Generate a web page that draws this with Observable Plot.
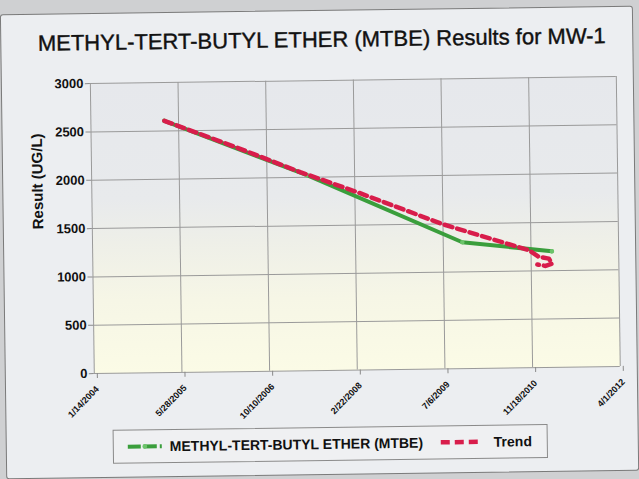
<!DOCTYPE html>
<html><head><meta charset="utf-8">
<script src="https://cdn.jsdelivr.net/npm/d3@7"></script>
<script src="https://cdn.jsdelivr.net/npm/@observablehq/plot@0.6"></script>
<style>
html,body{margin:0;padding:0;background:#cfd0d2;width:639px;height:479px;overflow:hidden;font-family:"Liberation Sans",Arial,sans-serif;}
#page{position:absolute;left:0;top:0;width:639px;height:479px;transform:rotate(-0.78deg);transform-origin:319.5px 239.5px;}
#panel{position:absolute;left:3px;top:10px;width:631px;height:463px;background:#eceef1;border:1px solid #7a7a7a;border-radius:3px;}
#title{position:absolute;left:5px;width:639px;top:27px;line-height:26px;text-align:center;font-size:22px;color:#111;-webkit-text-stroke:0.4px #111;white-space:nowrap;}
#chart{position:absolute;left:0;top:0;}
#legend{position:absolute;left:110px;top:427px;width:433px;height:32px;border:1px solid #8a8a8a;background:#eff0f2;}
#legend .lab{position:absolute;top:8px;font-size:14px;font-weight:bold;color:#111;white-space:nowrap;line-height:16px;}
#legend svg{position:absolute;top:9px;}
</style>
</head><body>
<div id="page">
  <div id="panel"></div>
  <div id="title">METHYL-TERT-BUTYL ETHER (MTBE) Results for MW-1</div>
  <div id="chart"></div>
  <div id="legend">
    <svg style="left:13px" width="36" height="14"><line x1="1" y1="7" x2="35" y2="7" stroke="#3a9e3c" stroke-width="4" stroke-dasharray="13,3"/><circle cx="18" cy="7" r="2.4" fill="#6cc46a"/></svg>
    <span class="lab" style="left:56px">METHYL-TERT-BUTYL ETHER (MTBE)</span>
    <svg style="left:326px" width="44" height="14"><line x1="1" y1="7" x2="43" y2="7" stroke="#d81d4b" stroke-width="4.5" stroke-dasharray="9,5"/></svg>
    <span class="lab" style="left:380px">Trend</span>
  </div>
</div>
<script>
// Data
const mtbeDates = ["2005-03-08", "2007-05-26", "2009-10-23", "2011-03-17"];
const mtbeValues = [2605, 2022, 1307, 1200];
const trendDates = ["2005-03-08", "2006-04-07", "2007-04-18", "2008-03-03", "2009-07-05", "2010-11-07", "2011-01-02", "2011-02-27", "2011-03-18", "2011-02-08", "2010-12-23"];
const trendValues = [2605, 2330, 2055, 1842, 1496, 1214, 1144, 1125, 1073, 1050, 1065];
const xTickDates = ["2004-01-14", "2005-05-28", "2006-10-10", "2008-02-22", "2009-07-06", "2010-11-18", "2012-04-01"];
const yTicks = [0, 500, 1000, 1500, 2000, 2500, 3000];
const yLabel = "Result (UG/L)";

const parse = d3.utcParse("%Y-%m-%d");
const mtbe = mtbeDates.map((d, i) => ({date: parse(d), value: mtbeValues[i]}));
const trend = trendDates.map((d, i) => ({date: parse(d), value: trendValues[i]}));
const xTicks = xTickDates.map(parse);
const fmt = d => `${d.getUTCMonth() + 1}/${d.getUTCDate()}/${d.getUTCFullYear()}`;
const font = '"Liberation Sans", Arial, sans-serif';

const chart = Plot.plot({
  width: 639, height: 430,
  marginLeft: 92, marginRight: 21, marginTop: 80, marginBottom: 60,
  style: {background: "transparent", fontFamily: font, color: "#111", overflow: "visible"},
  x: {type: "utc", domain: [xTicks[0], xTicks[xTicks.length - 1]]},
  y: {domain: [0, 3000]},
  marks: [
    Plot.frame({fill: "url(#plotBg)", stroke: "none"}),
    Plot.gridX(xTicks, {stroke: "#9a9a9a", strokeOpacity: 1, strokeWidth: 1}),
    Plot.gridY(yTicks, {stroke: "#9a9a9a", strokeOpacity: 1, strokeWidth: 1}),
    Plot.axisX({ticks: xTicks, tickFormat: fmt, tickRotate: -45, tickSize: 5, tickPadding: 9, dx: 3, fontSize: 9, fontWeight: "bold", label: null, stroke: "#8a8a8a"}),
    Plot.axisY({ticks: yTicks, tickFormat: d => String(d), tickSize: 5, tickPadding: 2, fontSize: 13, fontWeight: "bold", label: null, stroke: "#8a8a8a"}),
    Plot.text([yLabel], {frameAnchor: "left", dx: -54, rotate: -90, fontSize: 15, fontWeight: "bold", fill: "#111"}),
    Plot.line(mtbe, {x: "date", y: "value", stroke: "#3a9e3c", strokeWidth: 4}),
    Plot.dot(mtbe, {x: "date", y: "value", r: 2.3, fill: "#6cc46a"}),
    Plot.line(trend, {x: "date", y: "value", stroke: "#d81d4b", strokeWidth: 4.5, strokeDasharray: "8,5"})
  ]
});
const defs = d3.select(chart).insert("defs", ":first-child");
const grad = defs.append("linearGradient").attr("id", "plotBg").attr("x1", 0).attr("y1", 0).attr("x2", 0).attr("y2", 1);
[[0, "#e6e8ec"], [0.4, "#e8eaec"], [0.55, "#eeefe8"], [0.75, "#f6f6e6"], [1, "#fbfbe6"]].forEach(([o, c]) =>
  grad.append("stop").attr("offset", o).attr("stop-color", c));
document.getElementById("chart").appendChild(chart);
</script>
</body></html>
